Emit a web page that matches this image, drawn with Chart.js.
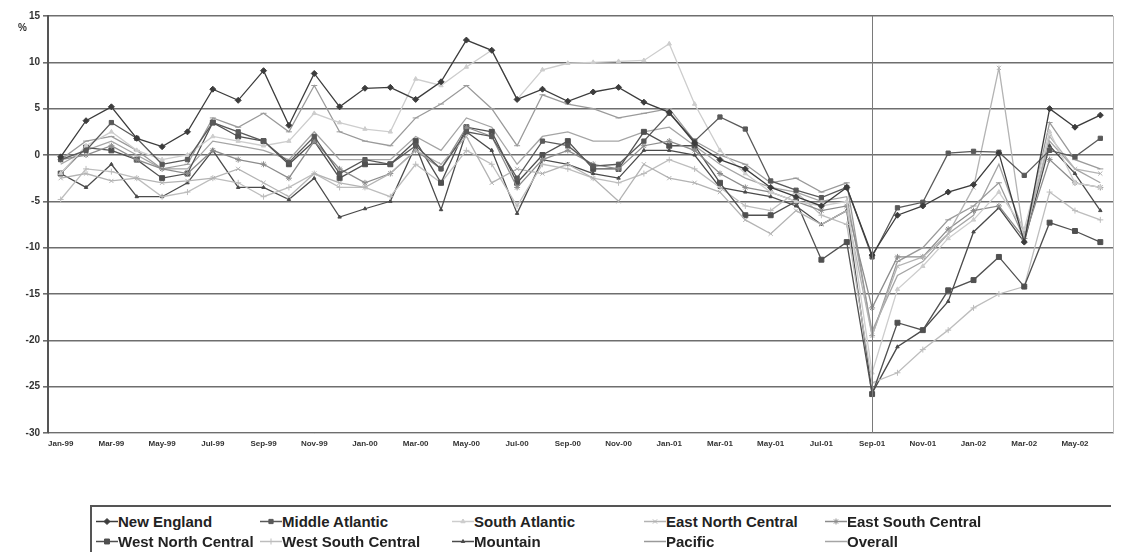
<!DOCTYPE html>
<html>
<head>
<meta charset="utf-8">
<script src="https://cdn.jsdelivr.net/npm/chart.js@4/dist/chart.umd.min.js"></script>
<style>
  body { margin: 0; background: #fff; }
  #wrap { position: absolute; left: 0; top: 0; width: 1123px; height: 470px; }
  #legend {
    position: absolute; left: 90px; top: 505px; width: 1021px; height: 47px;
    border-top: 2px solid #555; border-left: 2px solid #555;
    display: grid; grid-template-columns: 164px 192px 192px 181px auto;
    grid-auto-rows: 20px; padding: 4px 0 0 4px; box-sizing: border-box;
    font: bold 15px "Liberation Sans", Arial, sans-serif; color: #222;
  }
  .item { display: flex; align-items: center; white-space: nowrap; }
</style>
</head>
<body>
<div id="wrap"><canvas id="myChart"></canvas></div>
<div id="legend"></div>
<script>
var months = ["Jan-99","Feb-99","Mar-99","Apr-99","May-99","Jun-99","Jul-99","Aug-99","Sep-99","Oct-99","Nov-99","Dec-99",
  "Jan-00","Feb-00","Mar-00","Apr-00","May-00","Jun-00","Jul-00","Aug-00","Sep-00","Oct-00","Nov-00","Dec-00",
  "Jan-01","Feb-01","Mar-01","Apr-01","May-01","Jun-01","Jul-01","Aug-01","Sep-01","Oct-01","Nov-01","Dec-01",
  "Jan-02","Feb-02","Mar-02","Apr-02","May-02","Jun-02"];
var yTicks = [15, 10, 5, 0, -5, -10, -15, -20, -25, -30];

var newEngland = [-0.2,3.7,5.2,1.8,0.9,2.5,7.1,5.9,9.1,3.2,8.8,5.2,7.2,7.3,6.0,7.9,12.4,11.3,6.0,7.1,5.8,6.8,7.3,5.7,4.6,1.3,-0.5,-1.5,-3.5,-4.5,-5.5,-3.5,-10.8,-6.5,-5.5,-4.0,-3.2,0.2,-9.4,5.0,3.0,4.3];
var middleAtlantic = [-0.5,0.5,3.5,1.8,-1.0,-0.5,3.5,2.5,1.5,-0.8,2.0,-2.0,-0.5,-1.0,1.0,-1.5,2.5,2.0,-2.5,1.5,1.0,-1.2,-1.0,1.5,4.5,1.5,4.1,2.8,-2.8,-3.8,-4.6,-3.5,-11.0,-5.7,-5.1,0.2,0.4,0.3,-2.2,0.5,-0.2,1.8];
var southAtlantic = [-2.0,1.0,2.5,0.5,-0.5,0.0,2.0,1.5,1.0,1.5,4.5,3.5,2.8,2.5,8.2,7.5,9.5,11.3,6.0,9.2,9.9,10.0,10.1,10.2,12.0,5.5,0.5,-2.0,-4.0,-5.0,-5.5,-5.0,-23.5,-14.5,-12.0,-9.0,-7.0,-4.0,-8.0,2.5,-3.0,-3.5];
var eastNorthCentral = [-2.5,-2.0,-2.8,-2.5,-3.0,-2.8,-2.5,-1.5,-3.0,-4.5,-2.0,-3.0,-3.5,-2.0,0.5,-1.0,2.0,-3.0,-1.5,-2.0,-1.0,-2.5,-5.0,-1.0,-2.5,-3.0,-4.0,-7.0,-8.5,-6.0,-7.5,-6.0,-19.5,-12.0,-11.0,-8.5,-3.5,9.4,-9.0,2.0,-1.5,-2.0];
var eastSouthCentral = [-0.5,0.0,1.0,-0.5,-1.5,-2.0,0.5,-0.5,-1.0,-2.5,1.5,-1.5,-3.0,-2.0,0.5,-1.5,3.0,2.0,-3.5,-0.5,0.5,-1.0,-1.5,1.0,1.5,0.5,-2.0,-3.5,-4.0,-5.0,-6.0,-5.5,-16.5,-11.0,-11.0,-8.0,-6.0,-5.5,-9.0,-0.5,-3.0,-3.5];
var westNorthCentral = [-2.0,0.8,0.5,-0.5,-2.5,-2.0,3.5,2.0,1.5,-1.0,1.5,-2.5,-1.0,-1.0,1.5,-3.0,3.0,2.5,-3.0,0.0,1.5,-1.5,-1.5,2.5,1.0,1.0,-3.0,-6.5,-6.5,-5.0,-11.3,-9.4,-25.8,-18.1,-18.9,-14.6,-13.5,-11.0,-14.2,-7.3,-8.2,-9.4];
var westSouthCentral = [-4.8,-1.5,-1.8,-2.5,-4.5,-4.0,-2.5,-3.0,-4.5,-3.5,-2.0,-3.5,-3.5,-4.5,-1.0,-3.0,0.5,-1.0,-5.5,-1.0,-1.5,-2.5,-3.0,-2.0,-0.5,-1.5,-3.5,-5.5,-6.0,-4.0,-6.5,-7.5,-24.6,-23.5,-21.0,-18.9,-16.5,-15.0,-14.2,-4.0,-6.0,-7.0];
var mountain = [-2.0,-3.5,-1.0,-4.5,-4.5,-3.0,0.5,-3.5,-3.5,-4.8,-2.5,-6.7,-5.8,-5.0,1.0,-5.9,2.5,0.5,-6.3,-0.5,-1.0,-2.0,-2.5,0.5,0.5,0.0,-3.5,-4.0,-4.5,-5.5,-7.5,-6.0,-25.7,-20.7,-18.9,-15.8,-8.3,-5.7,-9.4,1.0,-2.0,-6.0];
var pacific = [-0.5,1.5,2.0,0.5,-1.5,-1.0,4.0,3.0,4.5,2.5,7.5,2.5,1.5,1.0,4.0,5.5,7.5,5.0,1.0,6.5,5.5,5.0,4.0,4.5,5.0,1.5,0.0,-1.0,-3.0,-2.5,-4.0,-3.0,-19.5,-11.5,-10.0,-7.0,-5.5,-3.0,-9.0,3.5,-0.5,-1.5];
var overall = [-1.0,0.5,1.5,0.0,-1.5,-1.5,1.5,1.0,0.5,-0.5,2.5,-0.5,-0.5,-0.5,2.0,0.5,4.0,3.0,-1.0,2.0,2.5,1.5,1.5,2.5,3.0,1.0,-1.0,-2.5,-3.5,-4.0,-5.0,-4.5,-19.0,-13.0,-11.5,-8.5,-6.5,-1.0,-8.5,1.5,-1.5,-3.0];

function series(label, data, color, style, radius) {
  return {
    label: label, data: data, borderColor: color, backgroundColor: color,
    borderWidth: 1.3, pointStyle: style, pointRadius: radius,
    pointBorderColor: color, pointBackgroundColor: color, pointBorderWidth: 1,
    tension: 0, fill: false
  };
}

var datasets = [
  series("New England", newEngland, "#3c3c3c", "rectRot", 3),
  series("Middle Atlantic", middleAtlantic, "#595959", "rect", 3),
  series("South Atlantic", southAtlantic, "#cdcdcd", "triangle", 2.5),
  series("East North Central", eastNorthCentral, "#b3b3b3", "crossRot", 3),
  series("East South Central", eastSouthCentral, "#8c8c8c", "star", 3),
  series("West North Central", westNorthCentral, "#505050", "rect", 3.5),
  series("West South Central", westSouthCentral, "#bdbdbd", "cross", 3),
  series("Mountain", mountain, "#4a4a4a", "triangle", 2),
  series("Pacific", pacific, "#9a9a9a", "line", 3),
  series("Overall", overall, "#a5a5a5", false, 0)
];

var extras = {
  id: "extras",
  afterDatasetsDraw: function (chart) {
    var c = chart.ctx, a = chart.chartArea, x = chart.scales.x;
    c.save();
    // Sep-01 marker line
    var px = Math.round(x.getPixelForValue(32)) + 0.5;
    c.strokeStyle = "#7a7a7a"; c.lineWidth = 1;
    c.beginPath(); c.moveTo(px, a.top); c.lineTo(px, a.bottom); c.stroke();
    // right edge
    c.strokeStyle = "#bdbdbd";
    c.beginPath(); c.moveTo(a.right + 0.5, a.top); c.lineTo(a.right + 0.5, a.bottom); c.stroke();
    // % label
    c.fillStyle = "#333";
    c.font = "bold 10px 'Liberation Sans Narrow', 'Liberation Sans', sans-serif";
    c.textAlign = "left"; c.textBaseline = "middle";
    c.fillText("%", a.left - 30, a.top + 12);
    c.restore();
  }
};

var ctx = document.getElementById("myChart");
var myChart = new Chart(ctx, {
  type: "line",
  data: { labels: months, datasets: datasets },
  plugins: [extras],
  options: {
    responsive: true,
    maintainAspectRatio: false,
    animation: false,
    layout: { padding: { top: 16, right: 10, left: 0, bottom: 0 } },
    plugins: { legend: { display: false }, tooltip: { enabled: false } },
    scales: {
      x: {
        offset: true,
        afterFit: function (s) { s.height = 37; },
        grid: { display: false, drawTicks: false },
        border: { display: true, color: "#c8c8c8", width: 1 },
        ticks: {
          autoSkip: false, maxRotation: 0, padding: 6, color: "#333",
          font: { family: "'Liberation Sans Narrow', 'Liberation Sans', sans-serif", size: 8, weight: "bold" },
          callback: function (v, i) { return i % 2 === 0 ? months[i] : ""; }
        }
      },
      y: {
        min: -30, max: 15,
        afterFit: function (s) { s.width = 48; },
        afterBuildTicks: function (s) { s.ticks = yTicks.map(function (v) { return { value: v }; }); },
        grid: { color: "#6e6e6e", lineWidth: 1.6, drawTicks: true, tickLength: 5, tickColor: "#6e6e6e" },
        border: { display: true, color: "#555", width: 2 },
        ticks: {
          padding: 3, color: "#333",
          font: { family: "'Liberation Sans Narrow', 'Liberation Sans', sans-serif", size: 10, weight: "bold" }
        }
      }
    }
  }
});

// legend built from the chart's datasets
var legend = document.getElementById("legend");
myChart.data.datasets.forEach(function (ds) {
  var item = document.createElement("div");
  item.className = "item";
  var cv = document.createElement("canvas");
  cv.width = 22; cv.height = 12;
  var g = cv.getContext("2d");
  g.strokeStyle = ds.borderColor; g.lineWidth = 1.5;
  g.beginPath(); g.moveTo(0, 6.5); g.lineTo(22, 6.5); g.stroke();
  if (ds.pointStyle && Chart.helpers && Chart.helpers.drawPoint) {
    g.fillStyle = ds.pointBackgroundColor; g.strokeStyle = ds.pointBorderColor; g.lineWidth = 1;
    Chart.helpers.drawPoint(g, { pointStyle: ds.pointStyle, radius: ds.pointRadius, rotation: 0, borderWidth: 1 }, 11, 6.5);
  }
  item.appendChild(cv);
  var t = document.createElement("span");
  t.textContent = ds.label;
  item.appendChild(t);
  legend.appendChild(item);
});
</script>
</body>
</html>
